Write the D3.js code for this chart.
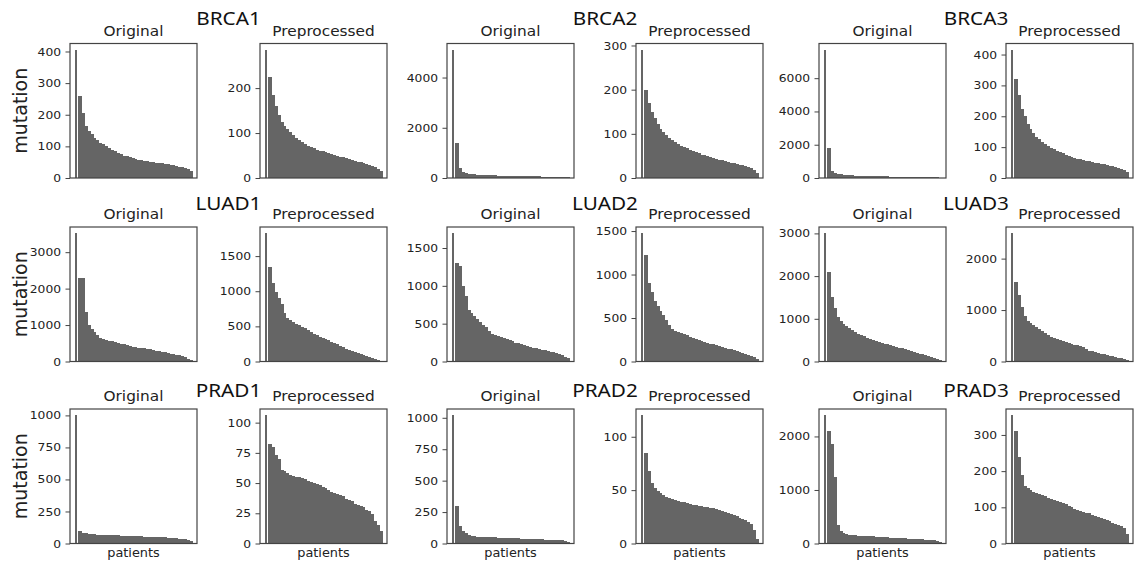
<!DOCTYPE html>
<html>
<head>
<meta charset="utf-8">
<script src="https://cdn.jsdelivr.net/npm/d3@7"></script>
<style>
  body { margin: 0; background: #fff; }
  svg { display: block; font-family: "DejaVu Sans", sans-serif; }
</style>
</head>
<body>
<svg id="chart" width="1135" height="566"></svg>
<script>
// Jeux de données : un par panneau (original / prétraité), 3 lignes x 3 paires
const groups = ["BRCA1", "BRCA2", "BRCA3", "LUAD1", "LUAD2", "LUAD3", "PRAD1", "PRAD2", "PRAD3"];
const panelTitles = ["Original", "Preprocessed"];
const yLabel = "mutation";
const xLabel = "patients";

// Nombre de mutations par patient, triées (40 barres par panneau)
const brca1Original = [405, 260, 205, 165, 150, 138, 126, 120, 112, 106, 100, 94, 89, 84, 79, 75, 71, 68, 65, 63,
  60, 58, 56, 54, 53, 51, 50, 48, 47, 46, 44, 43, 41, 40, 38, 36, 34, 31, 28, 22];
const brca1Preprocessed = [285, 225, 185, 160, 140, 125, 115, 108, 102, 96, 90, 85, 80, 76, 72, 69, 66, 63, 61, 59,
  57, 55, 53, 51, 49, 47, 46, 44, 42, 40, 38, 36, 35, 33, 31, 29, 27, 24, 20, 15];
const brca2Original = [5100, 1400, 380, 230, 190, 170, 155, 145, 135, 128, 122, 116, 111, 106, 102, 98, 95, 92, 89, 86,
  83, 80, 78, 75, 73, 70, 68, 66, 63, 61, 58, 56, 53, 50, 47, 44, 40, 35, 30, 20];
const brca2Preprocessed = [290, 200, 170, 150, 135, 122, 112, 104, 97, 91, 86, 81, 77, 73, 70, 67, 64, 61, 58, 56,
  53, 51, 49, 47, 45, 43, 41, 40, 38, 36, 35, 33, 32, 30, 29, 27, 25, 23, 19, 12];
const brca3Original = [7700, 1800, 450, 300, 250, 220, 200, 185, 172, 160, 150, 142, 135, 128, 122, 117, 112, 107, 103, 99,
  95, 91, 88, 85, 82, 79, 76, 73, 70, 67, 64, 61, 58, 55, 52, 48, 44, 40, 34, 25];
const brca3Preprocessed = [415, 320, 270, 225, 200, 175, 158, 145, 134, 125, 117, 110, 104, 98, 93, 88, 84, 80, 76, 72,
  69, 66, 63, 60, 58, 56, 54, 52, 50, 48, 46, 44, 42, 40, 38, 36, 33, 30, 26, 18];

const luad1Original = [3515, 2300, 2280, 1350, 1000, 900, 820, 720, 640, 610, 590, 570, 550, 530, 510, 490, 470, 450, 430, 410,
  395, 380, 370, 360, 350, 340, 320, 300, 285, 265, 250, 235, 215, 195, 180, 165, 150, 120, 70, 30];
const luad1Preprocessed = [1823, 1350, 1120, 990, 900, 820, 690, 620, 590, 560, 535, 515, 495, 470, 445, 420, 395, 372, 355, 335,
  318, 300, 283, 266, 245, 225, 205, 185, 165, 150, 135, 120, 105, 92, 80, 68, 55, 40, 25, 10];
const luad2Original = [1693, 1300, 1260, 1000, 860, 680, 640, 600, 560, 520, 480, 450, 400, 370, 355, 340, 325, 310, 295, 280,
  265, 250, 240, 228, 215, 205, 195, 185, 176, 167, 158, 150, 140, 130, 120, 108, 95, 80, 65, 50];
const luad2Preprocessed = [1473, 1230, 900, 800, 700, 640, 580, 530, 480, 420, 370, 355, 340, 330, 315, 300, 285, 272, 260, 250,
  238, 226, 215, 205, 197, 188, 178, 168, 158, 148, 138, 128, 118, 108, 97, 87, 76, 62, 48, 30];
const luad3Original = [3000, 2100, 1500, 1250, 1050, 950, 880, 820, 780, 730, 690, 650, 620, 590, 560, 535, 510, 485, 460, 440,
  420, 400, 385, 365, 345, 325, 305, 285, 265, 245, 225, 205, 185, 165, 145, 125, 105, 85, 65, 40];
const luad3Preprocessed = [2490, 1550, 1300, 1050, 880, 790, 750, 700, 665, 630, 590, 555, 510, 480, 460, 440, 420, 400, 380, 360,
  345, 330, 315, 300, 280, 250, 210, 200, 185, 170, 155, 145, 130, 115, 105, 90, 75, 65, 50, 30];

const prad1Original = [1000, 100, 85, 80, 76, 73, 71, 70, 69, 68, 67, 66, 65, 64, 63, 62, 61, 60, 59, 58,
  57, 56, 55, 54, 53, 52, 51, 50, 49, 48, 47, 46, 45, 43, 41, 39, 36, 32, 27, 20];
const prad1Preprocessed = [106, 82, 80, 73, 70, 61, 60, 58, 57, 56, 55, 55, 54, 53, 52, 51, 50, 49, 48, 47,
  46, 44, 43, 42, 41, 40, 39, 37, 36, 35, 33, 32, 31, 30, 28, 27, 24, 19, 15, 10];
const prad2Original = [1019, 300, 140, 100, 80, 70, 62, 58, 55, 53, 52, 51, 50, 49, 48, 47, 46, 45, 44, 43,
  42, 41, 40, 39, 38, 37, 36, 35, 34, 33, 32, 31, 30, 29, 28, 27, 26, 25, 22, 15];
const prad2Preprocessed = [120, 85, 68, 57, 52, 49, 47, 45, 44, 43, 42, 41, 40, 39, 38.5, 38, 37, 36.5, 36, 35.5,
  35, 34.5, 34, 33.5, 33, 32, 31, 30, 29.5, 29, 28, 27, 26, 24, 23, 22, 20, 18, 13, 4];
const prad3Original = [2393, 2100, 1850, 1250, 350, 240, 200, 180, 165, 158, 152, 148, 144, 140, 137, 134, 131, 128, 124, 120,
  117, 113, 110, 107, 104, 101, 98, 95, 92, 89, 86, 83, 80, 77, 74, 70, 66, 60, 50, 35];
const prad3Preprocessed = [354, 310, 240, 190, 160, 152, 147, 143, 140, 136, 133, 130, 127, 124, 121, 118, 115, 112, 108, 104,
  100, 96, 93, 90, 87, 85, 83, 80, 77, 74, 71, 69, 66, 62, 58, 55, 50, 47, 42, 25];

// Graduations de l'axe y, telles qu'affichées sur chaque panneau
const brca1Ticks = [[0, 100, 200, 300, 400], [0, 100, 200]];
const brca2Ticks = [[0, 2000, 4000], [0, 100, 200, 300]];
const brca3Ticks = [[0, 2000, 4000, 6000], [0, 100, 200, 300, 400]];
const luad1Ticks = [[0, 1000, 2000, 3000], [0, 500, 1000, 1500]];
const luad2Ticks = [[0, 500, 1000, 1500], [0, 500, 1000, 1500]];
const luad3Ticks = [[0, 1000, 2000, 3000], [0, 1000, 2000]];
const prad1Ticks = [[0, 250, 500, 750, 1000], [0, 25, 50, 75, 100]];
const prad2Ticks = [[0, 250, 500, 750, 1000], [0, 50, 100]];
const prad3Ticks = [[0, 1000, 2000], [0, 100, 200, 300]];

const seriesByGroup = [
  [brca1Original, brca1Preprocessed], [brca2Original, brca2Preprocessed], [brca3Original, brca3Preprocessed],
  [luad1Original, luad1Preprocessed], [luad2Original, luad2Preprocessed], [luad3Original, luad3Preprocessed],
  [prad1Original, prad1Preprocessed], [prad2Original, prad2Preprocessed], [prad3Original, prad3Preprocessed]
];
const ticksByGroup = [brca1Ticks, brca2Ticks, brca3Ticks, luad1Ticks, luad2Ticks, luad3Ticks, prad1Ticks, prad2Ticks, prad3Ticks];

// Mise en page (positions des cadres en pixels)
const colLeft = [70, 260, 447, 636, 819, 1006];
const rowTop = [43.5, 227, 409];
const groupTitleY = [25, 210, 397];
const boxW = 127;
const boxH = 134.5;
const barColor = "#656565";
const frameColor = "#444";
// la figure d'origine est un peu étirée en largeur
const stretch = "scale(1.12,1)";

const svg = d3.select("#chart");

groups.forEach((name, k) => {
  const row = Math.floor(k / 3);
  const pair = k % 3;

  // Titre du jeu de données, centré au-dessus de la paire
  const pairCenter = (colLeft[pair * 2] + colLeft[pair * 2 + 1] + boxW) / 2;
  svg.append("text")
    .attr("transform", `translate(${pairCenter},${groupTitleY[row]}) ${stretch}`)
    .attr("text-anchor", "middle")
    .style("font-family", "'Noto Sans', 'Open Sans', sans-serif")
    .style("font-size", "18.5px")
    .attr("fill", "#111")
    .text(name);

  panelTitles.forEach((title, j) => {
    const values = seriesByGroup[k][j];
    const ticks = ticksByGroup[k][j];
    const col = pair * 2 + j;

    const g = svg.append("g")
      .attr("transform", `translate(${colLeft[col]},${rowTop[row]})`);

    // marge de 5% en haut comme matplotlib
    const y = d3.scaleLinear()
      .domain([0, d3.max(values) * 1.05])
      .range([boxH, 0]);

    const x = d3.scaleBand()
      .domain(d3.range(values.length))
      .range([5, boxW - 5]);

    // barres collées ; la première un peu séparée comme sur la figure
    g.selectAll("rect.bar")
      .data(values)
      .join("rect")
      .attr("class", "bar")
      .attr("x", (d, i) => x(i))
      .attr("y", d => y(d))
      .attr("width", (d, i) => i === 0 ? x.bandwidth() - 1.2 : x.bandwidth() + 1)
      .attr("height", d => boxH - y(d))
      .attr("fill", barColor)
      .attr("shape-rendering", "crispEdges");

    // axe y
    const axis = g.append("g")
      .call(d3.axisLeft(y).tickValues(ticks).tickSize(4.5).tickPadding(3.5).tickFormat(d3.format("d")));
    axis.select(".domain").remove();
    axis.selectAll("line").attr("stroke", frameColor);
    axis.selectAll("text")
      .style("font-family", "'DejaVu Sans', sans-serif")
      .style("font-size", "11px")
      .attr("fill", "#222")
      .attr("transform", stretch);

    // cadre
    g.append("rect")
      .attr("width", boxW)
      .attr("height", boxH)
      .attr("fill", "none")
      .attr("stroke", frameColor)
      .attr("stroke-width", 1.2);

    // titre du panneau
    g.append("text")
      .attr("transform", `translate(${boxW / 2},-8) ${stretch}`)
      .attr("text-anchor", "middle")
      .style("font-size", "13.7px")
      .attr("fill", "#222")
      .text(title);

    // étiquette x seulement sur la dernière ligne
    if (row === 2) {
      g.append("text")
        .attr("transform", `translate(${boxW / 2},${boxH + 13}) ${stretch}`)
        .attr("text-anchor", "middle")
        .style("font-size", "11.5px")
        .attr("fill", "#222")
        .text(xLabel);
    }
  });

  // étiquette y seulement sur la première colonne
  if (pair === 0) {
    svg.append("text")
      .attr("transform", `translate(27,${rowTop[row] + boxH / 2}) rotate(-90)`)
      .attr("text-anchor", "middle")
      .style("font-size", "19px")
      .attr("fill", "#222")
      .text(yLabel);
  }
});
</script>
</body>
</html>
